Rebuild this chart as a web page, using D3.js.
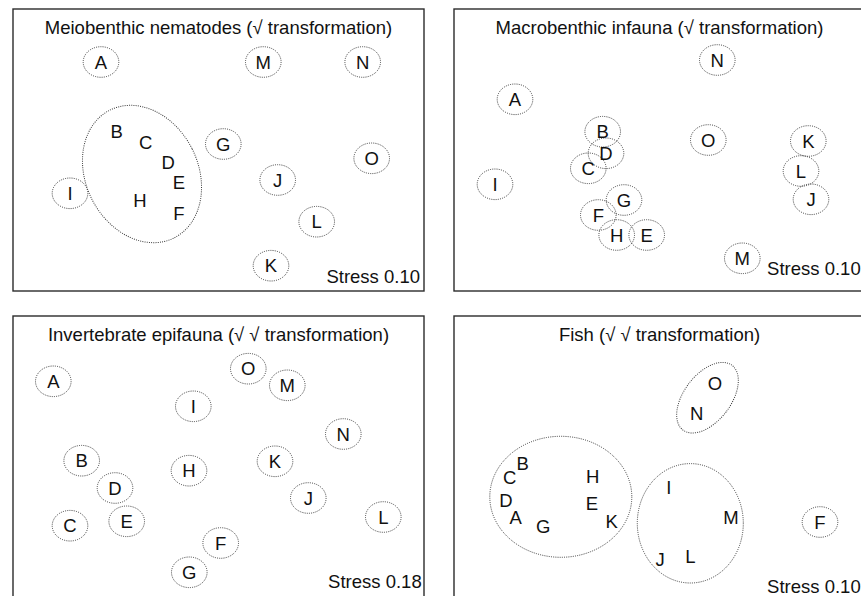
<!DOCTYPE html>
<html>
<head>
<meta charset="utf-8">
<script src="https://cdn.jsdelivr.net/npm/d3@7/dist/d3.min.js"></script>
<style>
	body { margin: 0; background: #fff; }
	svg { display: block; font-family: "Liberation Sans", Arial, sans-serif; }
</style>
</head>
<body>
<svg id="chart" width="861" height="596"></svg>
<script>
"use strict";

// site labels, same order in every ordination
var sites = ["A","B","C","D","E","F","G","H","I","J","K","L","M","N","O"];

var panelTitles = [
	"Meiobenthic nematodes (\u221A transformation)",
	"Macrobenthic infauna (\u221A transformation)",
	"Invertebrate epifauna (\u221A \u221A transformation)",
	"Fish (\u221A \u221A transformation)"
];
var stressValues = ["0.10", "0.10", "0.18", "0.10"];

// MDS coordinates [x, y], one per site A..O
var nematodes = [
	[-1.175, 0.88], [-1.018, 0.19], [-0.728, 0.073], [-0.502, -0.123], [-0.395, -0.327],
	[-0.395, -0.633], [0.048, 0.06], [-0.785, -0.507], [-1.485, -0.433], [0.592, -0.30],
	[0.525, -1.157], [0.982, -0.717], [0.448, 0.88], [1.442, 0.88], [1.532, -0.083]
];
var infauna = [
	[-1.445, 0.507], [-0.568, 0.183], [-0.712, -0.183], [-0.535, -0.033], [-0.128, -0.85],
	[-0.612, -0.65], [-0.355, -0.50], [-0.428, -0.85], [-1.645, -0.343], [1.515, -0.493],
	[1.488, 0.09], [1.415, -0.21], [0.828, -1.083], [0.578, 0.90], [0.488, 0.10]
];
var epifauna = [
	[-1.652, 0.757], [-1.368, -0.037], [-1.485, -0.687], [-1.035, -0.31], [-0.918, -0.643],
	[0.022, -0.86], [-0.292, -1.153], [-0.295, -0.137], [-0.252, 0.507], [0.898, -0.41],
	[0.565, -0.043], [1.648, -0.60], [0.688, 0.717], [1.248, 0.23], [0.298, 0.883]
];
var fish = [
	[-1.438, -0.608], [-1.368, -0.065], [-1.498, -0.20], [-1.535, -0.437], [-0.675, -0.46],
	[1.605, -0.65], [-1.162, -0.69], [-0.668, -0.19], [0.092, -0.302], [0.005, -1.028],
	[-0.478, -0.64], [0.308, -0.995], [0.715, -0.605], [0.372, 0.44], [0.555, 0.74]
];

// sites drawn with their own small dotted ring
var nematodeRinged = ["A","G","I","J","K","L","M","N","O"];
var infaunaRinged = sites;
var epifaunaRinged = sites;
var fishRinged = ["F"];

// dotted group outlines: centre, semi axes (MDS units), tilt in degrees
var nematodeGroups = [ {cx: -0.765, cy: -0.24, rx: 0.561, ry: 0.715, tilt: -26.7} ];
var infaunaGroups = [];
var epifaunaGroups = [];
var fishGroups = [
	{cx: -0.987, cy: -0.398, rx: 0.71, ry: 0.605, tilt: 0},
	{cx: 0.308, cy: -0.663, rx: 0.53, ry: 0.597, tilt: 0},
	{cx: 0.48, cy: 0.593, rx: 0.234, ry: 0.406, tilt: 37.2}
];

var panel_w = 411, panel_h = 282;
var ring_rx = 17.8, ring_ry = 15.3;
var font_size = 18.5;
var dot_color = "#3a3a3a";

// panel placement and where the stress note sits
var layout = [
	{left: 13, top: 9, stressDx: 4, stressDy: 8},
	{left: 454, top: 9, stressDx: 4.3, stressDy: 16},
	{left: 13, top: 316, stressDx: 2.3, stressDy: 10},
	{left: 454, top: 316, stressDx: 4.3, stressDy: 5}
];

var panels = [
	{points: nematodes, ringed: nematodeRinged, groups: nematodeGroups},
	{points: infauna, ringed: infaunaRinged, groups: infaunaGroups},
	{points: epifauna, ringed: epifaunaRinged, groups: epifaunaGroups},
	{points: fish, ringed: fishRinged, groups: fishGroups}
];

var svg = d3.select("#chart");

function draw_panel(p, i){
	var pos = layout[i];
	var x = d3.scaleLinear().domain([-2.055, 2.055]).range([0, panel_w]);
	var y = d3.scaleLinear().domain([1.41, -1.41]).range([0, panel_h]);

	var g = svg.append("g").attr("transform", "translate(" + pos.left + "," + pos.top + ")");

	g.append("rect")
		.attr("width", panel_w).attr("height", panel_h)
		.attr("fill", "none")
		.attr("stroke", "#2b2b2b")
		.attr("stroke-width", 1.4);

	g.append("text")
		.attr("x", panel_w / 2).attr("y", 24.7)
		.attr("text-anchor", "middle")
		.attr("font-size", font_size)
		.attr("fill", "#111")
		.text(panelTitles[i]);

	// group outlines
	g.selectAll(".group").data(p.groups).enter().append("ellipse")
		.attr("class", "group")
		.attr("transform", function(d){ return "translate(" + x(d.cx) + "," + y(d.cy) + ") rotate(" + d.tilt + ")"; })
		.attr("rx", function(d){ return x(d.rx) - x(0); })
		.attr("ry", function(d){ return y(0) - y(d.ry); })
		.attr("fill", "none")
		.attr("stroke", dot_color)
		.attr("stroke-width", 1)
		.attr("stroke-dasharray", "1,1.2");

	var rows = sites.map(function(s, k){ return {site: s, x: p.points[k][0], y: p.points[k][1]}; });

	// small rings round single sites
	g.selectAll(".ring").data(rows.filter(function(d){ return p.ringed.indexOf(d.site) >= 0; }))
		.enter().append("ellipse")
		.attr("class", "ring")
		.attr("cx", function(d){ return x(d.x); })
		.attr("cy", function(d){ return y(d.y); })
		.attr("rx", ring_rx).attr("ry", ring_ry)
		.attr("fill", "none")
		.attr("stroke", dot_color)
		.attr("stroke-width", 1)
		.attr("stroke-dasharray", "1,1.2");

	g.selectAll(".site").data(rows).enter().append("text")
		.attr("class", "site")
		.attr("x", function(d){ return x(d.x); })
		.attr("y", function(d){ return y(d.y); })
		.attr("dy", "0.36em")
		.attr("text-anchor", "middle")
		.attr("font-size", font_size)
		.attr("fill", "#111")
		.text(function(d){ return d.site; });

	g.append("text")
		.attr("x", panel_w - pos.stressDx)
		.attr("y", panel_h - pos.stressDy)
		.attr("text-anchor", "end")
		.attr("font-size", font_size)
		.attr("fill", "#111")
		.text("Stress " + stressValues[i]);
}

panels.forEach(draw_panel);
</script>
</body>
</html>
